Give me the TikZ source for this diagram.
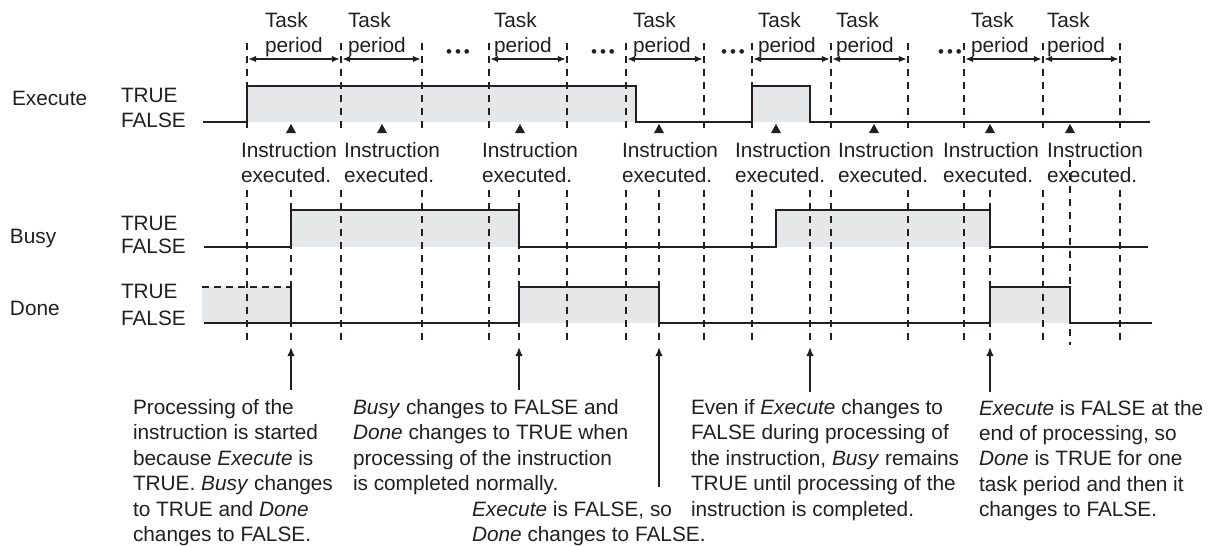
\documentclass[tikz,border=0pt]{standalone}
\usepackage{fontspec}
\setmainfont{Liberation Sans}
\usetikzlibrary{arrows.meta}
\definecolor{hishade}{HTML}{E6E7E8}
\definecolor{ink}{HTML}{231F20}
\begin{document}
\begin{tikzpicture}[x=0.5pt,y=-0.5pt,
  every node/.style={inner sep=0pt, outer sep=0pt, text=ink},
  lbl/.style={font=\fontsize{10.4}{12.7}\selectfont},
  blk/.style={lbl, anchor=north west, align=left},
  sig/.style={draw=ink, line width=1pt, line join=miter},
  guide/.style={draw=ink, line width=0.75pt, dash pattern=on 3.5pt off 3pt},
  perarrow/.style={draw=ink, line width=0.8pt, {Latex[length=4pt,width=3.4pt]}-{Latex[length=4pt,width=3.4pt]}},
  callout/.style={draw=ink, line width=0.85pt, -{Latex[length=4.5pt,width=3.8pt]}},
  dotsnode/.style={font=\fontsize{8.5}{8.5}\selectfont}
]
\useasboundingbox (0,0) rectangle (1221,546);
\fill[white] (0,0) rectangle (1221,546);

% shaded TRUE areas
\fill[hishade] (247,86) rectangle (636,122);
\fill[hishade] (752,86) rectangle (810,122);
\fill[hishade] (291,210) rectangle (519,247);
\fill[hishade] (776,210) rectangle (990,247);
\fill[hishade] (202,287) rectangle (291,323);
\fill[hishade] (519,287) rectangle (659,323);
\fill[hishade] (990,287) rectangle (1070,323);

% dashed guide lines (task period boundaries)
\foreach \x in {247,341,422,489,567,626,704,752,831,908,964,1043,1120} {
  \draw[guide] (\x,43) -- (\x,134);
  \draw[guide] (\x,190) -- (\x,345);
}
% dashed guide lines (events)
\foreach \x in {291,519,659,810,990} {
  \draw[guide] (\x,190) -- (\x,345);
}
\draw[guide] (1070,160) -- (1070,345);

% signals
\draw[sig] (203,122) -- (247,122) -- (247,86) -- (636,86) -- (636,122) -- (752,122) -- (752,86) -- (810,86) -- (810,122) -- (1150,122);
\draw[sig] (204,247) -- (291,247) -- (291,210) -- (519,210) -- (519,247) -- (776,247) -- (776,210) -- (990,210) -- (990,247) -- (1148,247);
\draw[draw=ink, line width=0.8pt, dash pattern=on 3.5pt off 2.5pt] (202,287) -- (291,287);
\draw[sig] (291,287) -- (291,323);
\draw[sig] (204,323) -- (519,323) -- (519,287) -- (659,287) -- (659,323) -- (990,323) -- (990,287) -- (1070,287) -- (1070,323) -- (1152,323);

% execution markers
\foreach \x in {291,382,520,659,776,874,990,1070} {
  \fill[ink] ({\x-5},133) -- (\x,124) -- ({\x+5},133) -- cycle;
}

% signal names and levels
\node[lbl, anchor=base west] (nexe) at (12,105) {Execute};
\node[lbl, anchor=base west] (etrue) at (121,102) {TRUE};
\node[lbl, anchor=base west] (efalse) at (121,127) {FALSE};
\node[lbl, anchor=base west] (nbusy) at (10,243) {Busy};
\node[lbl, anchor=base west] (btrue) at (121,230) {TRUE};
\node[lbl, anchor=base west] (bfalse) at (121,253) {FALSE};
\node[lbl, anchor=base west] (ndone) at (10,315) {Done};
\node[lbl, anchor=base west] (dtrue) at (121,298) {TRUE};
\node[lbl, anchor=base west] (dfalse) at (121,325) {FALSE};

% task period labels
\node[blk] (t1) at (265,12.5) {Task\\period};
\node[blk] (t2) at (348,12.5) {Task\\period};
\node[blk] (t3) at (494,12.5) {Task\\period};
\node[blk] (t4) at (633,12.5) {Task\\period};
\node[blk] (t5) at (758,12.5) {Task\\period};
\node[blk] (t6) at (836,12.5) {Task\\period};
\node[blk] (t7) at (971,12.5) {Task\\period};
\node[blk] (t8) at (1047,12.5) {Task\\period};

% period boundary coordinates and arrows
\foreach \a/\b [count=\i] in {247/341,341/422,489/567,626/704,752/831,831/908,964/1043,1043/1120} {
  \coordinate (pl\i) at (\a,59);
  \coordinate (pr\i) at (\b,59);
  \draw[perarrow, shorten <=0.6pt, shorten >=0.6pt] (pl\i) -- (pr\i);
}

% ellipses
\node[dotsnode] (d1) at (458,54) {•\hspace{1.5pt}•\hspace{1.5pt}•};
\node[dotsnode] (d2) at (603,54) {•\hspace{1.5pt}•\hspace{1.5pt}•};
\node[dotsnode] (d3) at (733,54) {•\hspace{1.5pt}•\hspace{1.5pt}•};
\node[dotsnode] (d4) at (950,54) {•\hspace{1.5pt}•\hspace{1.5pt}•};

% instruction executed labels
\node[blk] (i1) at (241,142.5) {Instruction\\executed.};
\node[blk] (i2) at (344,142.5) {Instruction\\executed.};
\node[blk] (i3) at (482,142.5) {Instruction\\executed.};
\node[blk] (i4) at (622,142.5) {Instruction\\executed.};
\node[blk] (i5) at (735,142.5) {Instruction\\executed.};
\node[blk] (i6) at (838,142.5) {Instruction\\executed.};
\node[blk] (i7) at (943,142.5) {Instruction\\executed.};
\node[blk] (i8) at (1047,142.5) {Instruction\\executed.};

% explanation blocks
\node[blk] (b1) at (133,399.5) {Processing of the\\instruction is started\\because \textit{Execute} is\\TRUE. \textit{Busy} changes\\to TRUE and \textit{Done}\\changes to FALSE.};
\node[blk] (b2) at (353,399.5) {\textit{Busy} changes to FALSE and\\\textit{Done} changes to TRUE when\\processing of the instruction\\is completed normally.};
\node[blk] (b3) at (472,501) {\textit{Execute} is FALSE, so\\\textit{Done} changes to FALSE.};
\node[blk] (b4) at (691,399.5) {Even if \textit{Execute} changes to\\FALSE during processing of\\the instruction, \textit{Busy} remains\\TRUE until processing of the\\instruction is completed.};
\node[blk] (b5) at (979,400) {\textit{Execute} is FALSE at the\\end of processing, so\\\textit{Done} is TRUE for one\\task period and then it\\changes to FALSE.};

% callout arrows
\coordinate (c1s) at (291,390); \coordinate (c1e) at (291,347);
\coordinate (c2s) at (519,390); \coordinate (c2e) at (519,347);
\coordinate (c3s) at (659,487); \coordinate (c3e) at (659,347);
\coordinate (c4s) at (810,392); \coordinate (c4e) at (810,347);
\coordinate (c5s) at (990,392); \coordinate (c5e) at (990,347);
\draw[callout] (c1s) -- (c1e);
\draw[callout] (c2s) -- (c2e);
\draw[callout] (c3s) -- (c3e);
\draw[callout] (c4s) -- (c4e);
\draw[callout] (c5s) -- (c5e);
\end{tikzpicture}
\end{document}
